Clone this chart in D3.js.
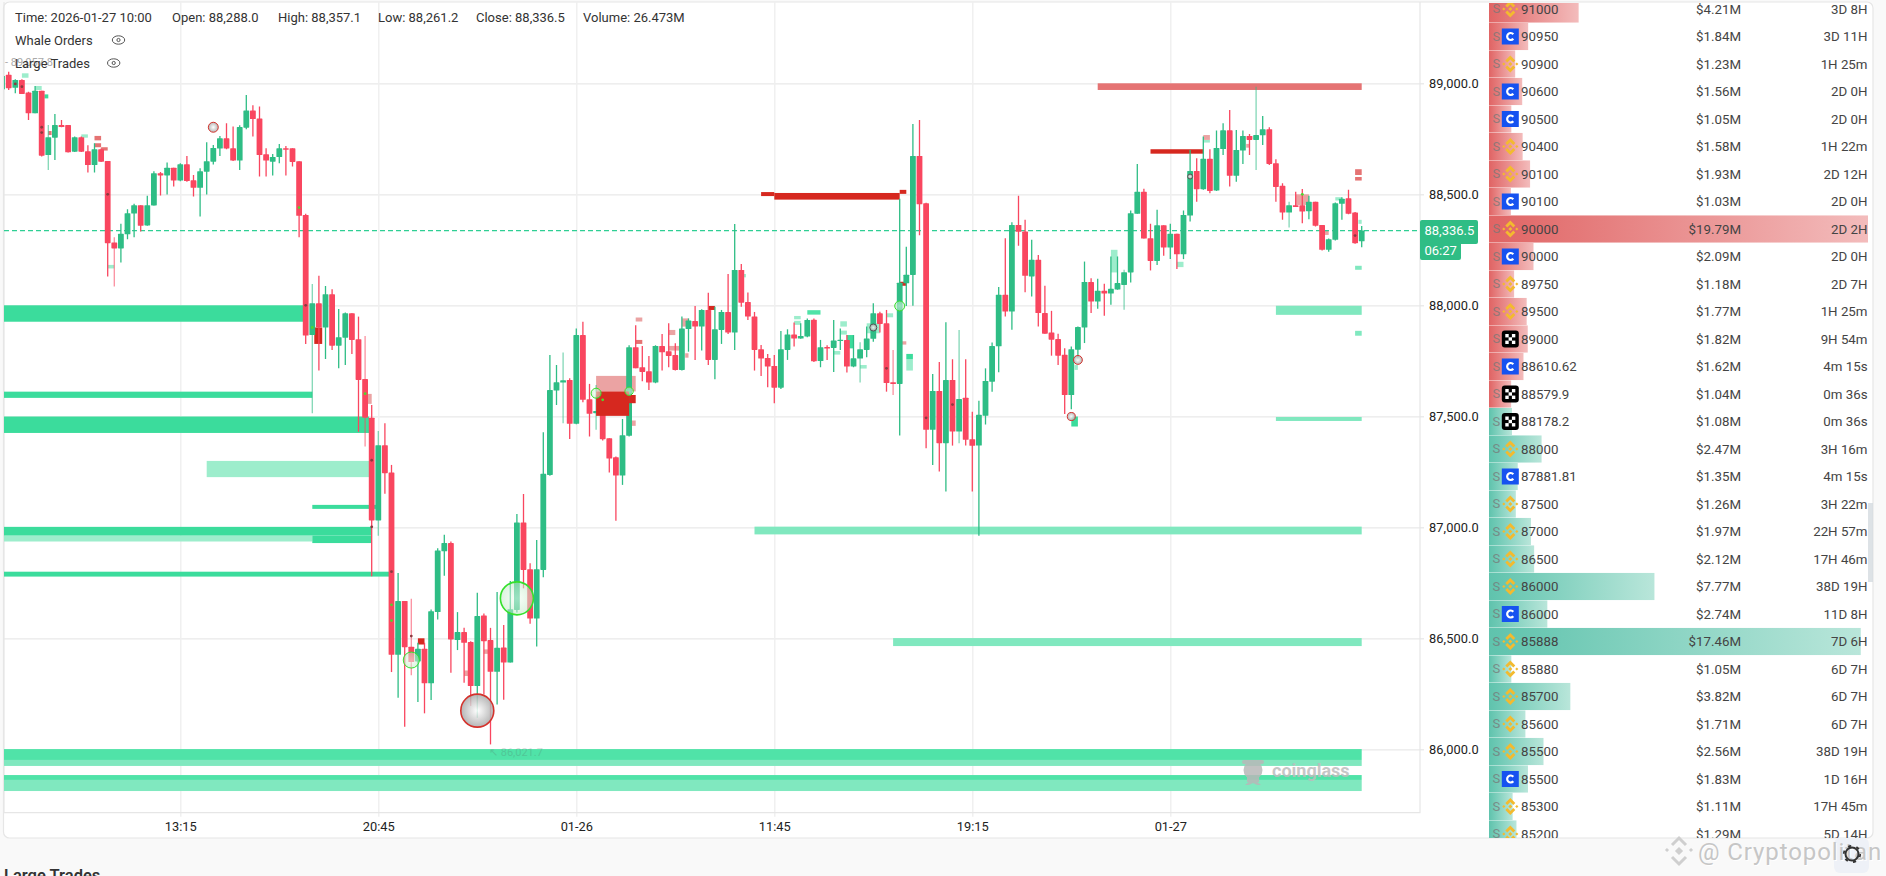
<!DOCTYPE html>
<html>
<head>
<meta charset="utf-8">
<style>
  html, body { margin: 0; padding: 0; background: #f9f9f9; overflow: hidden; }
  svg { display: block; font-family: Roboto, sans-serif; }
  .axis .domain { display: none; }
  .grid text { display: none; }
  .grid .domain { display: none; }
</style>
</head>
<body>
<svg width="1886" height="876"></svg>
<script src="https://d3js.org/d3.v7.min.js"></script>
<script>
  // 15m candles
  var opens = [
    89038,88980,89015,88958,88865,88967,88677,88755,88812,88812,
    88692,88757,88694,88632,88703,88650,88283,88256,88320,88413,
    88451,88360,88450,88595,88585,88620,88562,88635,88563,88529,
    88602,88647,88706,88752,88707,88652,88800,88878,88842,88680,
    88647,88668,88707,88707,88649,88407,87866,88009,87900,88050,
    87818,87854,87964,87847,87668,87494,87031,87370,87247,86426,
    86668,86462,86396,86453,86297,86618,86892,86929,86492,86528,
    86483,86285,86603,86492,86349,86458,86391,86628,87022,86811,
    86589,86808,87236,87616,87652,87664,87466,87866,87577,87514,
    87524,87401,87316,87233,87412,87811,87721,87703,87652,87817,
    87793,87776,87709,87893,87929,87904,87979,87754,87889,87970,
    87877,88159,88015,87950,87802,87763,87727,87629,87799,87869,
    87850,87859,87935,87749,87812,87808,87839,87844,87724,87760,
    87799,87849,87964,87919,87653,87646,88099,88137,88673,88460,
    87439,87614,87379,87664,87431,87584,87397,87368,87502,87656,
    87815,88047,87972,88362,88332,88130,88205,87965,87878,87848,
    87777,87596,87800,87900,88105,88017,88065,88053,88071,88092,
    88148,88412,88511,88302,88200,88361,88260,88322,88230,88404,
    88605,88523,88660,88517,88704,88788,88583,88697,88763,88745,
    88766,88793,88640,88538,88418,88451,88451,88424,88466,88362,
    88250,88295,88457,88482,88418,88288
  ];
  var closes = [
    88978,89015,88952,88865,88967,88674,88757,88812,88803,88689,
    88757,88692,88632,88703,88647,88280,88256,88322,88415,88451,
    88358,88451,88595,88585,88620,88562,88635,88560,88529,88604,
    88649,88709,88752,88706,88652,88803,88878,88839,88677,88652,
    88668,88707,88701,88646,88403,87864,88009,87900,88050,87818,
    87856,87964,87844,87664,87494,87031,87370,87244,86426,86668,
    86460,86393,86453,86297,86622,86896,86929,86495,86528,86480,
    86285,86600,86487,86349,86457,86391,86631,87022,86808,86589,
    86811,87241,87619,87653,87662,87466,87866,87574,87511,87524,
    87397,87310,87233,87415,87811,87716,87700,87652,87817,87788,
    87772,87709,87896,87931,87904,87979,87754,87892,87970,87877,
    88159,88012,87949,87799,87760,87724,87629,87802,87869,87850,
    87862,87934,87748,87811,87805,87841,87845,87724,87761,87802,
    87851,87964,87916,87650,87646,88102,88138,88673,88455,87439,
    87614,87379,87664,87431,87578,87394,87367,87507,87659,87817,
    88047,87972,88362,88331,88133,88205,87965,87872,87845,87773,
    87596,87802,87902,88105,88017,88065,88053,88074,88100,88149,
    88415,88511,88301,88200,88361,88260,88322,88230,88407,88605,
    88523,88660,88515,88709,88788,88583,88700,88763,88745,88767,
    88793,88637,88533,88418,88451,88443,88422,88466,88358,88250,
    88298,88460,88480,88412,88280,88336.5
  ];
  var highs = [
    89052,89018,89018,88962,88988,88967,88812,88862,88835,88812,
    88760,88760,88721,88730,88706,88650,88307,88367,88433,88457,
    88451,88493,88604,88601,88643,88620,88640,88673,88587,88617,
    88734,88722,88763,88820,88805,88811,88947,88901,88895,88707,
    88682,88727,88718,88707,88649,88412,88096,88133,88087,88072,
    87983,87968,87964,87949,87862,87551,87434,87469,87281,86794,
    86668,86678,86480,86480,86630,86906,86966,86936,86618,86547,
    86487,86705,86612,86547,86708,86560,86758,87060,87150,86838,
    86943,87428,87776,87731,87787,87671,87896,87926,87646,87641,
    87574,87401,87319,87488,87820,87910,87817,87772,87820,87871,
    87919,87829,87949,87941,87997,87982,88057,87994,87979,88141,
    88366,88186,88058,87970,87821,87781,87776,87884,87892,87922,
    87919,87941,87940,87844,87820,87934,87896,87866,87866,87834,
    87904,88009,87971,87979,87799,88480,88264,88817,88835,88462,
    87691,87745,87924,87757,87889,87757,87521,87570,87716,87832,
    88082,88302,88374,88493,88385,88295,88227,88088,87975,87872,
    87806,87814,87905,88197,88122,88120,88097,88220,88220,88160,
    88427,88637,88525,88367,88430,88361,88367,88322,88427,88700,
    88662,88760,88703,88787,88820,88880,88790,88787,88772,88985,
    88853,88802,88658,88550,88467,88512,88524,88493,88466,88362,
    88301,88463,88487,88520,88420,88357.1
  ];
  var lows = [
    88970,88955,88952,88835,88865,88670,88610,88655,88802,88688,
    88691,88691,88598,88598,88646,88130,88085,88193,88298,88307,
    88332,88358,88450,88495,88499,88535,88559,88557,88490,88400,
    88499,88634,88673,88703,88650,88610,88793,88760,88580,88580,
    88585,88640,88585,88625,88307,87826,87514,87706,87758,87799,
    87716,87731,87781,87430,87364,86779,86962,87151,86348,86232,
    86102,86333,86213,86162,86222,86585,86782,86345,86447,86300,
    86195,86142,86247,86022,86202,86223,86391,86616,86725,86565,
    86463,86775,87232,87551,87469,87398,87464,87563,87409,87439,
    87391,87247,87030,87191,87409,87716,87658,87619,87649,87706,
    87721,87706,87706,87791,87754,87796,87731,87667,87826,87871,
    87799,87994,87934,87706,87682,87631,87559,87623,87754,87814,
    87849,87856,87745,87721,87754,87700,87799,87697,87721,87652,
    87766,87836,87877,87611,87596,87413,87997,87998,88315,87356,
    87281,87251,87161,87368,87379,87368,87161,86962,87463,87611,
    87698,87950,87890,88268,88059,88040,87905,87872,87773,87731,
    87510,87532,87755,87830,87965,87985,87953,88002,88070,87980,
    88103,88412,88301,88157,88182,88223,88208,88164,88208,88377,
    88467,88520,88505,88515,88677,88535,88556,88637,88677,88610,
    88722,88632,88466,88385,88350,88443,88370,88388,88355,88247,
    88241,88292,88385,88410,88277,88261.2
  ];
  // wicks that come out washed-out in the screenshot
  var paleWicks = [6, 16, 46, 54, 56, 61, 84, 89, 129, 134, 144, 169, 189, 194];
  // sliver of the candle cut off by the left edge: [start, end, top, bottom]
  var cutCandle = [[-1, -0.58, 89033, 88973]];

  // order book walls: [start candle, end candle, top price, bottom price]
  var wallsStrong = [
    [-1,45,88000,87926],[-1,46,87611,87583],[-1,54.6,87499,87425],[46,56,87101,87083],
    [-1,55,87002,86963],[46,55,86963,86929],[-1,58,86800,86778],
    [5.4,6,88950,88932],[136,137,87781,87757],[161,162,87499,87454],[127,128,87866,87806]
  ];
  var wallsBright = [[-1,205,86001,85952],[-1,205,85884,85862],[121,123,87978,87958]];
  var wallsMid = [
    [-1,205,85952,85925],[-1,205,85862,85812],[113,205,87003,86968],[134,205,86501,86465],
    [192,205,87998,87957],[204,205,88178,88160],[204,205,87885,87863],[192,205,87497,87479]
  ];
  var wallsLight = [
    [30,55,87299,87226],[-1,46,86963,86936],
    [2,3,89045,89025],[4,5,88988,88970],[11,12,88770,88755],[15,16,88182,88166],
    [119,120,87952,87937],[119,120,87930,87912],[126,127,87928,87904],[126,127,87886,87868],
    [125,126,87794,87778],[129,130,87731,87715],[133,134,87964,87946],[111,111.7,88141,88126],
    [130,132,87919,87874],[136,137,87757,87706],[181,182,88745,88733],[177,178,88196,88172],
    [201,202,88487,88472],[167,168,88250,88148],[204.5,205,88385,88367],[161.5,162,87731,87709]
  ];
  var wallsRed = [[165,205,89000,88970],[204,205,88613,88587],[204,205,88578,88562],
    [13,14,88763,88743],[13,14,88730,88712],[14,15,88712,88697],[95,96,87844,87826],[6,6.5,88785,88767]];
  var wallsPale = [
    [54,55,87601,87556],[69,70,86355,86330],[72,73,86450,86430],[89,95,87682,87612],
    [94,95,87481,87457],[95,96,87945,87927],[100,101,87889,87866],[100,102,87817,87796],
    [102,103,87941,87904],[102.5,103,87784,87764],[135.3,136,87838,87823],
    [181,182,88767,88745],[195,197,88500,88452],[187.5,188,88727,88710],[199,200,88337,88317]
  ];
  var wallsDark = [
    [173,181,88703,88683],[114,116,88510,88492],[116,135,88506,88476],[135,136,88520,88502],
    [46.3,47.5,87900,87826],[62,63,86500,86472],[106,107,87997,87979],[135,136,88106,88088]
  ];
  var bigOrderBlock = [[89,94,87612,87502],[94,95,87596,87559]];

  // whale bubbles: candle, price, size in $M, side
  var whaleIndex = [71, 77, 61, 31, 89, 94, 135, 131, 162, 161, 179];
  var whalePrice = [86174, 86680, 86402, 88802, 87604, 87613, 87997, 87900, 87754, 87499, 88580];
  var whaleSize = [11, 11, 2.6, 1, 1, 0.7, 1, 0.5, 0.8, 0.65, 0.25];
  var whaleSide = ["sell","buy","buy","sell","buy","buy","buy","dark","sell","sell","dark"];

  // large trade dots sitting on the candles
  var tradeIndex = [1, 2, 5, 5, 15, 44, 45, 46, 54, 55, 55, 58, 58, 58, 61, 133, 139, 143, 90, 196, 204];
  var tradePrice = [88997, 88985, 88802, 88778, 88500, 88440, 88000, 87900, 87602, 87302, 87002, 86800, 86651, 86580, 86510, 87716, 87493, 87553, 87574, 88500, 88314];
  var tradeSide = ["dark","dark","dark","dark","dark","buy","dark","buy","buy","dark","dark","dark","buy","buy","dark","dark","dark","dark","buy","buy","dark"];

  var priceTicks = [89000, 88500, 88000, 87500, 87000, 86500, 86000];
  var timeIndex = [26, 56, 86, 116, 146, 176];
  var timeLabels = ["13:15", "20:45", "01-26", "11:45", "19:15", "01-27"];
  var lastPrice = 88336.5;
  var countdown = "06:27";

  var headerItems = ["Time: 2026-01-27 10:00", "Open: 88,288.0", "High: 88,357.1", "Low: 88,261.2", "Close: 88,336.5", "Volume: 26.473M"];

  // order list on the right
  var rowPrices = ["91000","90950","90900","90600","90500","90400","90100","90100","90000","90000","89750","89500","89000","88610.62","88579.9",
    "88178.2","88000","87881.81","87500","87000","86500","86000","86000","85888","85880","85700","85600","85500","85500","85300","85200"];
  var rowAmounts = [4.21,1.84,1.23,1.56,1.05,1.58,1.93,1.03,19.79,2.09,1.18,1.77,1.82,1.62,1.04,
    1.08,2.47,1.35,1.26,1.97,2.12,7.77,2.74,17.46,1.05,3.82,1.71,2.56,1.83,1.11,1.29];
  var rowAges = ["3D 8H","3D 11H","1H 25m","2D 0H","2D 0H","1H 22m","2D 12H","2D 0H","2D 2H","2D 0H","2D 7H","1H 25m","9H 54m","4m 15s","0m 36s",
    "0m 36s","3H 16m","4m 15s","3H 22m","22H 57m","17H 46m","38D 19H","11D 8H","7D 6H","6D 7H","6D 7H","6D 7H","38D 19H","1D 16H","17H 45m","5D 14H"];
  var rowExchanges = ["b","c","b","c","c","b","b","c","b","c","b","b","o","c","o",
    "o","b","c","b","b","b","b","c","b","b","b","b","b","c","b","b"];
  var firstBuyRow = 15;

  var svg = d3.select("svg");

  // Scales
  var x = d3.scaleLinear().domain([0, 205]).range([8.7, 1361.7]);
  var y = d3.scaleLinear().domain([89000, 86000]).range([83.3, 749.3]);
  var plotLeft = 4, plotRight = 1420, plotTop = 2, plotBottom = 812.7;

  var defs = svg.append("defs");
  defs.append("clipPath").attr("id", "plot").append("rect")
    .attr("x", plotLeft).attr("y", plotTop).attr("width", plotRight - plotLeft).attr("height", plotBottom - plotTop);
  defs.append("clipPath").attr("id", "list").append("rect")
    .attr("x", 1489).attr("y", 3).attr("width", 384).attr("height", 835);

  function gradient(id, from, to) {
    var g = defs.append("linearGradient").attr("id", id);
    g.append("stop").attr("offset", "0%").attr("stop-color", from);
    g.append("stop").attr("offset", "100%").attr("stop-color", to);
  }
  gradient("sellBar", "#e06464", "#f3bcbc");
  gradient("buyBar", "#5fc3ad", "#b9e6da");

  function bubbleGrad(id, inner, outer) {
    var g = defs.append("radialGradient").attr("id", id);
    g.append("stop").attr("offset", "0%").attr("stop-color", inner);
    g.append("stop").attr("offset", "100%").attr("stop-color", outer);
  }
  bubbleGrad("bubbleGrey", "#ffffff", "#a9a9a9");
  bubbleGrad("bubbleGreen", "#f4fff4", "#bfe8c4");

  // Card
  svg.append("rect").attr("x", 3.5).attr("y", 2).attr("width", 1869.5).attr("height", 836).attr("rx", 6)
    .attr("fill", "#fff").attr("stroke", "#e6e6e6").attr("stroke-width", 1.2);

  // Grid
  svg.append("g").attr("class", "grid").attr("transform", "translate(" + plotRight + ",0)")
    .call(d3.axisLeft(y).tickValues(priceTicks).tickSize(plotRight - plotLeft))
    .selectAll("line").attr("stroke", "#e9e9e9").attr("stroke-width", 1.2);
  svg.append("g").attr("class", "grid").attr("transform", "translate(0," + (plotBottom + 4) + ")")
    .call(d3.axisTop(x).tickValues(timeIndex).tickSize(plotBottom + 2))
    .selectAll("line").attr("stroke", "#efefef").attr("stroke-width", 1.4);

  svg.append("path")
    .attr("d", "M" + plotLeft + "," + plotBottom + "H" + plotRight + "V" + plotTop)
    .attr("fill", "none").attr("stroke", "#e6e6e6").attr("stroke-width", 1.2);
  svg.append("line").attr("x1", plotLeft).attr("x2", plotLeft).attr("y1", plotTop).attr("y2", plotBottom)
    .attr("stroke", "#e6e6e6").attr("stroke-width", 1.2);

  // Axes
  var yAxis = svg.append("g").attr("class", "axis").attr("transform", "translate(" + plotRight + ",0)")
    .call(d3.axisRight(y).tickValues(priceTicks).tickSize(4).tickPadding(5).tickFormat(d3.format(",.1f")));
  yAxis.selectAll("line").attr("stroke", "#e6e6e6").attr("stroke-width", 1.2);
  yAxis.selectAll("text").attr("font-size", 12.8).attr("font-family", "Roboto, sans-serif").attr("fill", "#222").attr("letter-spacing", "0.1");

  var xAxis = svg.append("g").attr("class", "axis").attr("transform", "translate(0," + plotBottom + ")")
    .call(d3.axisBottom(x).tickValues(timeIndex).tickSize(0).tickPadding(9)
      .tickFormat(function(d, i) { return timeLabels[i]; }));
  xAxis.selectAll("text").attr("font-size", 12.8).attr("font-family", "Roboto, sans-serif").attr("fill", "#222");

  var plot = svg.append("g").attr("clip-path", "url(#plot)");

  function walls(list, color) {
    plot.append("g").attr("fill", color)
      .selectAll("rect").data(list).enter().append("rect")
      .attr("x", function(d) { return x(d[0]); })
      .attr("width", function(d) { return x(d[1]) - x(d[0]); })
      .attr("y", function(d) { return y(d[2]); })
      .attr("height", function(d) { return y(d[3]) - y(d[2]); });
  }
  walls(wallsLight, "#9dedcc");
  walls(wallsMid, "#80e8bf");
  walls(wallsBright, "#50e3a8");
  walls(wallsStrong, "#3bdc9c");
  walls(wallsPale, "#eba3a3");
  walls(wallsRed, "#e57373");
  walls(wallsDark, "#d6281f");
  walls(cutCandle, "#2ebd85");

  // Last price line
  plot.append("line").attr("x1", plotLeft).attr("x2", plotRight).attr("y1", y(lastPrice)).attr("y2", y(lastPrice))
    .attr("stroke", "#2fcf94").attr("stroke-width", 1.3).attr("stroke-dasharray", "5,3");

  // Candles
  var candles = plot.append("g").selectAll("g").data(d3.range(opens.length)).enter().append("g")
    .attr("fill", function(i) { return closes[i] >= opens[i] ? "#2ebd85" : "#f9465f"; })
    .attr("stroke", function(i) { return closes[i] >= opens[i] ? "#2ebd85" : "#f9465f"; });
  candles.append("line")
    .attr("x1", function(i) { return x(i); }).attr("x2", function(i) { return x(i); })
    .attr("y1", function(i) { return y(highs[i]); }).attr("y2", function(i) { return y(lows[i]); })
    .attr("stroke-width", 1.3)
    .attr("stroke-opacity", function(i) { return paleWicks.indexOf(i) >= 0 ? 0.6 : 1; });
  candles.append("rect")
    .attr("x", function(i) { return x(i) - 2.9; }).attr("width", 5.8)
    .attr("y", function(i) { return y(Math.max(opens[i], closes[i])); })
    .attr("height", function(i) { return Math.max(1.2, Math.abs(y(opens[i]) - y(closes[i]))); })
    .attr("rx", 0.6).attr("stroke", "none");

  walls(bigOrderBlock, "#d6281f");

  // Trade dots
  plot.append("g").selectAll("circle").data(d3.range(tradeIndex.length)).enter().append("circle")
    .attr("cx", function(i) { return x(tradeIndex[i]); })
    .attr("cy", function(i) { return y(tradePrice[i]); })
    .attr("r", 1.4)
    .attr("fill", function(i) { return tradeSide[i] == "buy" ? "#4fd62f" : "#8a3a3f"; });

  // Whale bubbles
  var bubbleR = d3.scaleSqrt().domain([0, 11]).range([0, 16.5]);
  plot.append("g").selectAll("circle").data(d3.range(whaleIndex.length)).enter().append("circle")
    .attr("cx", function(i) { return x(whaleIndex[i]); })
    .attr("cy", function(i) { return y(whalePrice[i]); })
    .attr("r", function(i) { return bubbleR(whaleSize[i]); })
    .attr("fill", function(i) { return whaleSide[i] == "buy" ? "url(#bubbleGreen)" : "url(#bubbleGrey)"; })
    .attr("fill-opacity", function(i) { return whaleSide[i] == "buy" ? 0.55 : 0.85; })
    .attr("stroke", function(i) { return whaleSide[i] == "buy" ? "#35e02c" : whaleSide[i] == "sell" ? "#d4322c" : "#555"; })
    .attr("stroke-width", function(i) { return whaleSize[i] > 5 ? 1.6 : 1; });

  // Faint high and low labels
  svg.append("text").attr("x", 5).attr("y", 66).attr("font-size", 11).attr("fill", "#aaa").text("-  89,057.8");
  svg.append("text").attr("x", 489).attr("y", 756).attr("font-size", 11).attr("fill", "#555").attr("opacity", 0.2).text("↖ 86,021.7");

  // Coinglass watermark
  var mark = svg.append("g").attr("fill", "#b8b8b8").attr("opacity", 0.85);
  mark.append("circle").attr("cx", 1253).attr("cy", 770).attr("r", 9.5);
  mark.append("rect").attr("x", 1242).attr("y", 760).attr("width", 22).attr("height", 4).attr("rx", 2);
  mark.append("rect").attr("x", 1247).attr("y", 777).attr("width", 12).attr("height", 5);
  mark.append("path").attr("d", "M1245,785 L1250,781 L1256,781 L1261,785 L1257,785 L1253,783 L1249,785 Z");
  mark.append("text").attr("x", 1272).attr("y", 777).attr("font-size", 18).attr("font-weight", 700).attr("fill", "#bdbdbd").text("coinglass");

  // Header
  var headerX = [15, 172, 278, 378, 476, 583];
  svg.append("g").selectAll("text").data(headerItems).enter().append("text")
    .attr("x", function(d, i) { return headerX[i]; }).attr("y", 22)
    .attr("font-size", 13).attr("fill", "#333").text(function(d) { return d; });

  function legend(label, ty, eyeX) {
    svg.append("text").attr("x", 15).attr("y", ty + 4.5).attr("font-size", 13).attr("fill", "#333").text(label);
    svg.append("ellipse").attr("cx", eyeX).attr("cy", ty).attr("rx", 6.2).attr("ry", 4.2)
      .attr("fill", "none").attr("stroke", "#555").attr("stroke-width", 1);
    svg.append("circle").attr("cx", eyeX).attr("cy", ty).attr("r", 1.6)
      .attr("fill", "none").attr("stroke", "#555").attr("stroke-width", 1);
  }
  legend("Whale Orders", 40, 118.5);
  legend("Large Trades", 63, 113.7);

  // Last price tag
  var tagGreen = "#2fbd85";
  svg.append("rect").attr("x", 1420).attr("y", 220).attr("width", 58).attr("height", 24).attr("rx", 2).attr("fill", tagGreen);
  svg.append("rect").attr("x", 1420).attr("y", 240).attr("width", 41).attr("height", 20).attr("rx", 2).attr("fill", tagGreen);
  svg.append("text").attr("x", 1424.5).attr("y", 234.6).attr("font-size", 13).attr("fill", "#fff").text(d3.format(",.1f")(lastPrice));
  svg.append("text").attr("x", 1424.5).attr("y", 254.6).attr("font-size", 13).attr("fill", "#fff").text(countdown);

  // Order list
  var barWidth = d3.scaleLinear().domain([0, 17.8]).range([0, 379]).clamp(true);
  var rowHeight = 27.5, listLeft = 1489;
  var list = svg.append("g").attr("clip-path", "url(#list)");

  var rows = list.selectAll("g").data(d3.range(rowPrices.length)).enter().append("g")
    .attr("transform", function(i) { return "translate(0," + (9 + rowHeight * i) + ")"; });

  rows.append("rect")
    .attr("x", listLeft).attr("y", -rowHeight / 2 + 0.2)
    .attr("width", function(i) { return barWidth(rowAmounts[i]); })
    .attr("height", rowHeight - 0.4)
    .attr("fill", function(i) { return i < firstBuyRow ? "url(#sellBar)" : "url(#buyBar)"; });

  rows.append("text").attr("x", 1492.5).attr("y", 4).attr("font-size", 13).attr("fill", "#777").attr("opacity", 0.75).text("S");

  rows.each(function(i) {
    var g = d3.select(this).append("g").attr("transform", "translate(1510.3,0)");
    if (rowExchanges[i] == "b") {
      g.attr("fill", "#f3ba2f");
      g.append("polygon").attr("points", "0,-8.5 5,-3.5 3,-1.5 0,-4.5 -3,-1.5 -5,-3.5");
      g.append("polygon").attr("points", "0,8.5 5,3.5 3,1.5 0,4.5 -3,1.5 -5,3.5");
      g.append("polygon").attr("points", "0,-2 2,0 0,2 -2,0");
      g.append("polygon").attr("points", "-6.5,-1.6 -4.9,0 -6.5,1.6 -8.1,0");
      g.append("polygon").attr("points", "6.5,-1.6 8.1,0 6.5,1.6 4.9,0");
    } else if (rowExchanges[i] == "c") {
      g.append("rect").attr("x", -8.5).attr("y", -8).attr("width", 17).attr("height", 16).attr("fill", "#1652f0");
      g.append("path").attr("d", "M3,-2.3 A3.5,3.5 0 1 0 3,2.3")
        .attr("fill", "none").attr("stroke", "#fff").attr("stroke-width", 2.2);
    } else {
      g.append("rect").attr("x", -8.5).attr("y", -8.5).attr("width", 17).attr("height", 17).attr("rx", 3).attr("fill", "#000");
      g.selectAll("rect.c").data([[-5, -5], [1.6, -5], [-1.7, -1.7], [-5, 1.6], [1.6, 1.6]]).enter().append("rect")
        .attr("class", "c")
        .attr("x", function(d) { return d[0]; }).attr("y", function(d) { return d[1]; })
        .attr("width", 3.4).attr("height", 3.4).attr("fill", "#fff");
    }
  });

  rows.append("text").attr("x", 1521).attr("y", 4.6).attr("font-size", 13.3).attr("fill", "#444")
    .text(function(i) { return rowPrices[i]; });
  rows.append("text").attr("x", 1741).attr("y", 4.6).attr("font-size", 13.3).attr("fill", "#444").attr("text-anchor", "end")
    .text(function(i) { return "$" + d3.format(".2f")(rowAmounts[i]) + "M"; });
  rows.append("text").attr("x", 1867.5).attr("y", 4.6).attr("font-size", 13.3).attr("fill", "#444").attr("text-anchor", "end")
    .text(function(i) { return rowAges[i]; });

  // Scrollbar
  svg.append("rect").attr("x", 1868).attr("y", 503).attr("width", 5).attr("height", 79).attr("fill", "#d5dbe0").attr("opacity", 0.8);

  // Section title cut off by the window edge
  svg.append("text").attr("x", 4).attr("y", 881).attr("font-size", 16.5).attr("font-weight", 600).attr("fill", "#333").text("Large Trades");

  // Settings button sits under the watermark, the gear over it
  svg.append("rect").attr("x", 1834).attr("y", 838).attr("width", 35).attr("height", 35).attr("rx", 6).attr("fill", "#eef1f7");

  // Cryptopolitan watermark
  var wm = svg.append("g").attr("transform", "translate(1679,851)").attr("fill", "none").attr("stroke", "#cfcfcf").attr("stroke-width", 3);
  wm.append("path").attr("d", "M-7,-6 L0,-13 L7,-6 M-7,6 L0,13 L7,6 M-13,0 L-11,-2 M13,0 L11,-2 M-2,0 L0,-2 L2,0 L0,2 Z");
  svg.append("text").attr("x", 1699).attr("y", 861).attr("font-size", 24).attr("fill", "#fff")
    .attr("letter-spacing", "0.9").text("@ Cryptopolitan");
  svg.append("text").attr("x", 1698).attr("y", 860).attr("font-size", 24).attr("fill", "#c6c6c6")
    .attr("letter-spacing", "0.9").text("@ Cryptopolitan");

  // Gear
  svg.append("circle").attr("cx", 1852).attr("cy", 854).attr("r", 6.5).attr("fill", "none").attr("stroke", "#333").attr("stroke-width", 2);
  svg.append("circle").attr("cx", 1852).attr("cy", 854).attr("r", 8.2).attr("fill", "none").attr("stroke", "#333")
    .attr("stroke-width", 1.8).attr("stroke-dasharray", "3.2,5.4");
</script>
</body>
</html>
